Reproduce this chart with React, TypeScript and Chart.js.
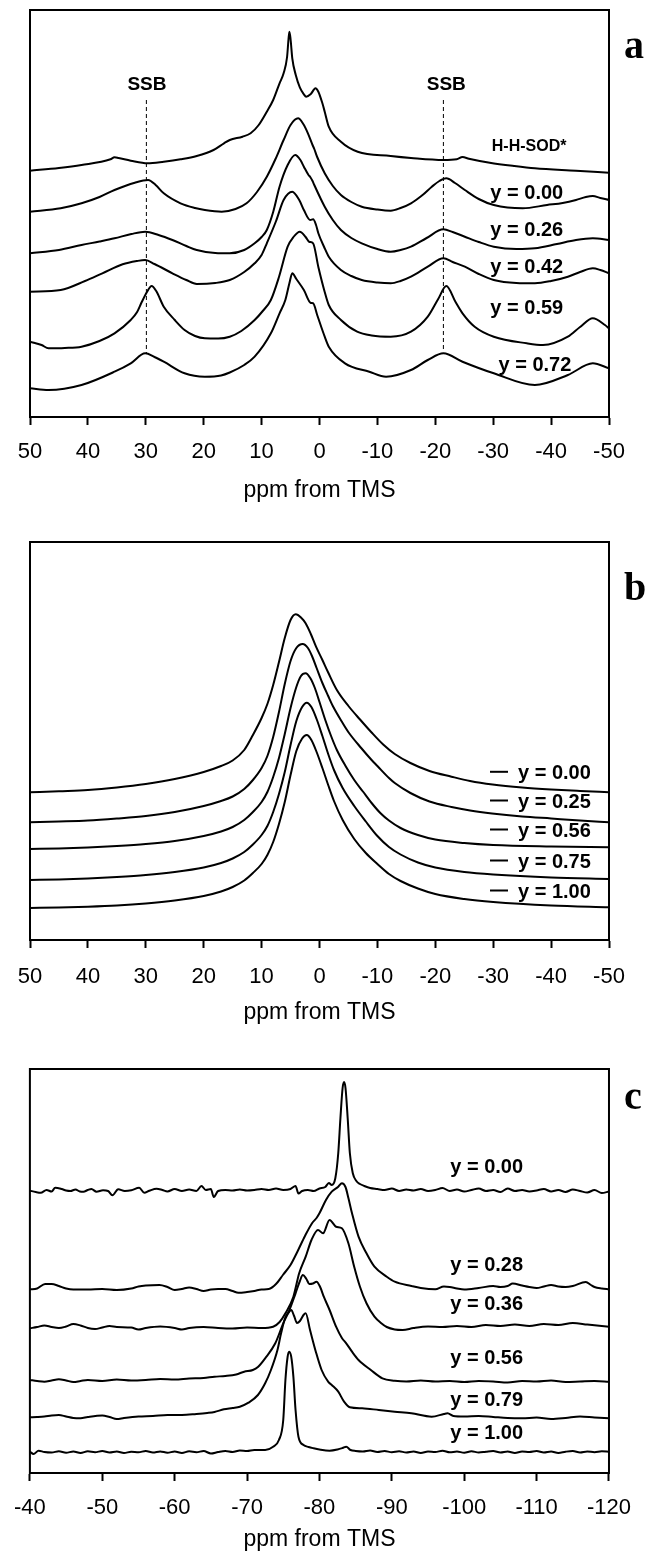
import React, { useEffect, useRef } from "react";
import { Chart, registerables } from "chart.js";

Chart.register(...registerables);

// ---------- Panel a : 1H spectra, [ppm, stacked intensity] ----------
const aHHSOD = [[50,246.3],[45,249],[41.1,252],[36.1,257.7],[35.4,259.7],[34.7,259],[32.6,256.3],[29.7,253.7],[26.9,255.3],[24,257.7],[21.2,261],[18.3,267],[16.5,273.7],[15.5,277],[13.3,280.3],[11.9,283.7],[10.5,292],[9.1,305.3],[8.0,317],[6.9,333.7],[6.2,343.7],[5.6,360],[5.35,378],[5.2,385.3],[5.0,378],[4.7,358.7],[4.1,342],[3.4,329.7],[2.7,322.7],[2.3,320.3],[1.5,323],[0.7,328.7],[0.2,325.3],[-0.5,313.7],[-0.9,305.3],[-1.6,290.3],[-3.7,275.3],[-6.6,265.3],[-12.3,261],[-15.8,259],[-21.4,257],[-23.7,257.7],[-24.7,260],[-25.8,258.3],[-29.4,254.3],[-33.6,251],[-37.2,248.7],[-44.3,246.3],[-50,244.3]];
const aY000 = [[50,205.3],[44.7,208.7],[41.1,213.7],[38,220],[35.4,227],[31.9,234.3],[29.6,237],[28.3,232],[26.9,223.7],[24,213.7],[21.5,209],[19.8,207],[16.9,205.3],[14.5,208],[12.6,213.7],[10.8,225],[9.1,240.3],[7.6,258],[6.2,277],[5.0,292],[3.7,298.7],[2.8,293],[2.0,283.7],[1.2,272],[0.9,268],[0.4,260],[-0.9,243.7],[-2.3,231],[-3.7,222],[-5.5,215],[-7.3,210.3],[-10,207.5],[-12.3,206.3],[-14,209],[-15.8,213.7],[-17.8,222],[-19.4,230.3],[-20.7,236],[-21.9,238.7],[-23.4,234],[-25.1,227],[-27.5,218],[-30.1,212],[-35.1,208.7],[-39.3,212],[-42,214],[-44.3,217],[-46,220],[-47.2,221],[-48.5,219],[-50,217]];
const aY026 = [[50,163.7],[45,167],[41.1,172],[38,175.5],[35.4,178.7],[32.5,183],[30.1,185.3],[27.8,182],[25.4,177],[23,171],[21.2,167],[18,164],[15.5,163.7],[13,167],[11.2,173.7],[10,180],[9.1,187],[8,205],[6.9,230.3],[5.5,252],[4.2,262],[3.3,257],[2.7,250.3],[1.9,242],[1.6,240],[1.2,236],[0.9,232],[-0.9,210.3],[-2.3,197],[-3.7,187],[-5.5,179],[-7.3,173.7],[-10,168],[-12.3,165.3],[-14,167],[-15.8,170.3],[-18.5,179],[-21.4,187.7],[-23,185],[-25.1,180.3],[-27.5,175],[-30.1,170.3],[-34,168],[-37.2,168.7],[-41,173],[-44.3,177],[-47.2,178.7],[-50,177]];
const aY042 = [[50,125.3],[44.7,127],[40.5,136],[37.5,143.7],[34,152.7],[31.5,156],[30.1,157],[28.5,153],[25.4,143.7],[23,137],[21.2,133],[18,134],[15.5,137],[13,145],[11.2,153.7],[10,162],[9.1,173.7],[7.5,196],[6.2,217],[4.7,225.3],[3.5,217],[2.7,207],[1.6,197],[1.1,197.7],[0.6,192],[0.2,183.7],[-0.8,170],[-1.6,160.3],[-3.7,147],[-5.5,141],[-7.3,137],[-10,134.5],[-12.3,133.7],[-14,136],[-15.8,140.3],[-18.7,150.3],[-21.4,158.7],[-23,155],[-25.1,150.3],[-27.5,143],[-30.1,137],[-34,134],[-37.2,133.7],[-40,136],[-42.9,140.3],[-45,145],[-47.2,148.7],[-48.5,147],[-50,143.7]];
const aY059 = [[50,75.3],[48,72],[46.8,68.7],[44,69],[41.1,70.3],[38,76],[35.4,83.7],[32.6,97],[31.5,105],[30.8,113.7],[29.8,125],[29.0,131],[28.2,126],[26.9,110.3],[25,97],[23.3,87],[21.5,81],[19.8,78.7],[17.5,78.5],[15.5,80.3],[13.5,86],[11.2,97],[9.8,106],[8.4,117],[7,140],[5.5,170.3],[4.5,180],[3.4,185.3],[2.4,180],[1.8,175.3],[1.1,173.7],[0.2,150],[-0.9,125],[-1.6,112],[-3.7,97],[-6.5,85.3],[-9,81.5],[-12.3,80.3],[-15.8,85.3],[-18.7,100.3],[-20.5,118],[-21.9,131],[-23.5,115],[-24.7,103.7],[-26.8,90.3],[-30.1,80.3],[-35.8,73.7],[-38.6,72],[-42.9,80.3],[-45,90],[-47.2,98.7],[-49.3,92],[-50,88.7]];
const aY072 = [[50,28.7],[46.8,27],[41.1,32],[35.4,45.3],[32.6,53.7],[30.1,63.7],[28.5,60],[26.9,55.3],[23.3,43.7],[19.8,40.3],[17,41.5],[15.5,44.5],[13,52],[11.2,60.3],[8.4,83.7],[6.9,103.7],[5.9,117],[5.2,133.7],[4.7,143.7],[4,138],[2.7,127],[1.5,114],[1.1,113.7],[0.4,102],[-0.9,80.3],[-1.6,70.3],[-4.4,53.7],[-8.6,45.3],[-11.5,40.3],[-15.8,47],[-18.7,57],[-21.4,63.7],[-24.7,55.3],[-30.1,43.7],[-37.2,32],[-42.9,42],[-47.2,53.7],[-50,48.7]];
const aSSBLeft = [[29.9,317],[29.9,64]];
const aSSBRight = [[-21.4,317],[-21.4,65]];
const aLabels = ["SSB", "SSB", "H-H-SOD*", "y = 0.00", "y = 0.26", "y = 0.42", "y = 0.59", "y = 0.72"];
const aLabelAt = [[29.8,332],[-21.9,332],[-36.2,270],[-35.8,224],[-35.8,187],[-35.8,150],[-35.8,109],[-37.2,52]];

// ---------- Panel b ----------
const bY000 = [[50,147.7],[45,148.8],[40,150],[35,152.5],[30,156],[25,161],[20,168],[17,174],[15,179.5],[13,190],[11.5,205],[10,222],[9,236],[8,255],[7,278],[6,302],[5,320],[4.1,325.7],[3.2,322.5],[2.4,316.7],[1.5,306],[0.6,293.3],[-0.5,280],[-1.5,267.5],[-3,250],[-5,234],[-7,220.5],[-9,207.5],[-11,195.5],[-13,186],[-15.7,177],[-19,169],[-22.8,163.3],[-26,159],[-29.9,155.5],[-35,152.5],[-40,150.5],[-45,149],[-50,147.7]];
const bY025 = [[50,117.7],[45,118.5],[40,119.5],[35,121.5],[30,124],[25,128],[20,134],[17,139],[15,143.5],[13,151],[11.5,160],[10,172],[9,184],[8,203],[7,228],[6,256],[5,279],[4,292],[2.9,296],[2,292],[1.3,284],[0.5,272],[-0.5,257],[-1.5,244],[-2.3,234],[-4,217],[-5.1,207],[-7.2,192],[-9,180],[-10,174],[-12,162],[-13,157],[-15.7,147],[-19,138.5],[-22.8,133],[-26,129.5],[-29.8,126.5],[-35,123.5],[-40,121.5],[-45,119.5],[-50,117.7]];
const bY056 = [[50,91],[45,91.5],[40,92.5],[35,94],[30,96],[25,99],[20,104],[17,108.5],[15,113],[13,120],[11.5,128],[10,138],[9,148],[8,163],[7,182],[6,206],[5,232],[4,253],[3.2,264],[2.4,266.7],[1.6,262],[0.8,252],[0,238],[-1,220],[-2,204],[-3,190],[-4.5,174],[-6,160],[-7.5,148.5],[-9,137],[-10.5,127],[-12,119.5],[-14,112],[-17,105],[-20,100.5],[-25,97],[-30,95],[-40,93.5],[-50,92.7]];
const bY075 = [[50,60],[45,60.5],[40,61.5],[35,63],[30,65],[25,68],[20,72.5],[17,77],[15,81.5],[13,88],[11.5,95.5],[10,105],[9,114],[8,128],[7,146],[6,168],[5,195],[4,219],[3,233],[2.2,237.3],[1.4,233],[0.5,221],[-0.5,204],[-1.5,186],[-2.5,170],[-4,152],[-6,134],[-8,118.5],[-10,104],[-12,93],[-14,85.5],[-17,77.5],[-20,72.5],[-25,68],[-30,65.5],[-40,62.5],[-50,61]];
const bY100 = [[50,32],[45,32.5],[40,33.3],[35,34.5],[30,36.5],[25,39.5],[20,44],[17,48.5],[15,53],[13,59.5],[11.5,67],[10,76],[9,85],[8,98],[7,116],[6,138],[5,165],[4,189],[3,201.5],[2.2,205],[1.4,200],[0.5,188],[-0.5,172],[-1.5,155],[-2.5,139],[-4,120],[-6,101],[-8,87],[-10,76],[-12,66],[-14,59],[-17,51.5],[-20,46],[-25,41],[-30,38],[-40,34.5],[-50,32.7]];
const bLabels = ["y = 0.00", "y = 0.25", "y = 0.56", "y = 0.75", "y = 1.00"];
const bLabelY = [166.7, 138, 109, 78, 48];

// ---------- Panel c : 29Si spectra ----------
const cY000 = [[-40,282.3],[-40.8,281],[-41.5,280.3],[-42.3,283],[-43.0,281.5],[-43.5,285.3],[-44.4,284],[-45.0,282.5],[-45.6,282],[-46.3,283.5],[-46.9,281.5],[-47.4,281.3],[-48.0,283],[-48.5,284],[-49.2,281.3],[-50.1,282.7],[-50.8,282],[-51.4,277.7],[-52.2,283.7],[-53.1,282],[-54.0,282.7],[-55.1,285.3],[-55.8,280.3],[-56.5,282.3],[-57.5,284.3],[-58.3,283],[-59,281.5],[-60,284],[-61,282],[-62,283.5],[-63,282],[-63.7,287],[-64.3,283],[-65,284],[-65.4,276],[-66,282],[-67,283],[-68,282.5],[-69,283.5],[-70,282.5],[-71,283],[-72,284],[-73,283],[-74,284.5],[-75,283],[-76,284],[-76.7,287],[-77.1,279.5],[-77.6,282],[-78.4,283],[-79.2,282],[-80,284.5],[-80.8,286],[-81.3,290],[-81.7,288],[-82.2,295],[-82.6,320],[-82.9,355],[-83.2,385],[-83.4,391],[-83.6,385],[-83.9,355],[-84.2,320],[-84.6,300],[-85.1,292],[-85.6,289],[-86.2,287],[-87,285],[-88,284],[-89,283],[-90,284.5],[-91,282],[-92,283.5],[-93,282.5],[-94,284],[-95,282],[-96,283],[-97,285],[-98,282],[-99,283.5],[-100,281.5],[-101,283],[-102,284.5],[-103,282],[-104,283],[-105,281],[-106,284.5],[-107,282],[-108,283],[-109,281.5],[-110,282.5],[-111,284],[-112,281.5],[-113,283],[-114,281],[-115,283.5],[-116,282],[-117,280.5],[-118,283],[-119,280],[-120,281.5]];
const cY028 = [[-40,183.7],[-41,184.5],[-42.1,189],[-43,189],[-44,187],[-45,184.5],[-46,183.5],[-48,183.5],[-50,184],[-52,183],[-54,184.5],[-55,186.5],[-56,187.5],[-57.9,188],[-59,186],[-60,183],[-61,184],[-62,185.5],[-63,184],[-64,182],[-65,183.5],[-66,184],[-67,184],[-68,182],[-68.8,180.3],[-70,181],[-71,182],[-72,183.5],[-73,184],[-74,189],[-75,198.5],[-76,208],[-77,222],[-78,237],[-79,250],[-79.6,255],[-80,259.7],[-80.9,273],[-81.7,281.3],[-82.6,286.3],[-83.1,289.7],[-83.6,286],[-84,275],[-84.5,259.7],[-85.4,236.3],[-86.5,219.7],[-87.6,206.3],[-89.3,196.3],[-90.4,191.3],[-92.7,187],[-94,185],[-96,183.7],[-97.2,186.5],[-98,186],[-99,184.5],[-100,183.5],[-102,185],[-104,187],[-105,186],[-106,187],[-106.7,189.5],[-108,187.5],[-109,186],[-110,185],[-111,186.5],[-112,188],[-113,186.5],[-114,186],[-115,187],[-116.8,191],[-117.5,188],[-118,186],[-119,184.5],[-120,183.7]];
const cY036 = [[-40,144.7],[-41,146],[-42,147.5],[-43,146],[-44,145],[-45,146.5],[-46,149],[-47,147.5],[-48,145],[-49,144],[-50,145.5],[-51,147],[-52,146],[-54,145.5],[-55,143.5],[-56,145],[-58,146.5],[-60,145],[-61,143.5],[-62,145],[-64,146],[-66,145],[-68,144.5],[-70,145.5],[-72,145],[-73.6,146.3],[-74.5,151],[-75.3,159.7],[-76.4,176.3],[-77.2,199.7],[-78.1,216.3],[-78.9,233],[-79.8,243],[-80.5,239.7],[-81.4,253],[-82.3,246.3],[-83.1,244.7],[-84,229.7],[-84.8,206.3],[-85.6,186.3],[-86.5,169.7],[-87.6,156.3],[-88.5,150],[-89.3,146],[-90.4,143.5],[-91.5,143],[-93,145],[-95,146.5],[-97,146],[-99,147],[-101,146],[-103,148],[-105,147],[-107,148.5],[-109,147],[-111,149],[-113,148],[-115,150],[-117,148.5],[-119,147],[-120,146.3]];
const cY056 = [[-40,93],[-41,92],[-42,91.3],[-43,92.5],[-44,93.7],[-45,92.5],[-46,91],[-47,92],[-48,93],[-50,92],[-52,93.5],[-54,92.5],[-56,93],[-58,94],[-60,93.5],[-62,94.5],[-64,95],[-65.5,96.3],[-67,97],[-68.5,98.5],[-69.6,101.3],[-70.8,103],[-71.5,106],[-72.5,114.7],[-73.9,129.7],[-75,149.7],[-75.8,162],[-76.7,179.7],[-77.3,192],[-77.7,198],[-78.2,194],[-78.6,189],[-79.1,189.5],[-79.6,191.3],[-80.1,186],[-80.6,176.3],[-81.4,163],[-82.3,146.3],[-83.1,135],[-83.7,129.7],[-84.5,121.3],[-85.4,113],[-87.1,103],[-88.7,94.7],[-90.4,92.3],[-92,91.5],[-94,92.5],[-96,91.5],[-98,92],[-100,91],[-102,92],[-104,91.5],[-106,90.5],[-108,92],[-110,91.5],[-112,92.5],[-114,91],[-116,91.5],[-118,92],[-120,91.3]];
const cY079 = [[-40,55.7],[-41,56],[-42,56.5],[-43,57.5],[-44,58],[-45,56.5],[-46,55],[-47,54.7],[-48,56],[-50,57.5],[-51,56],[-52,54],[-53,55],[-55,56.5],[-57,57],[-59,58],[-61,58],[-63,59],[-64.5,60],[-65.5,61],[-66.8,63.7],[-68,65],[-69,66.3],[-70.2,70.3],[-71.5,78],[-72.5,89.7],[-73.3,103],[-74.2,123],[-74.7,139.7],[-75.3,156],[-75.8,161],[-76.1,163],[-76.5,157],[-76.9,150],[-77.3,152],[-77.8,158],[-78.1,159.7],[-78.7,143],[-79.5,121.3],[-80.3,103],[-81.2,91.3],[-81.7,88],[-82.6,81.3],[-83.4,71.3],[-84.2,65.7],[-85.9,64.7],[-88.2,63],[-90.4,61.3],[-92.7,59.7],[-95.5,56.3],[-97.2,59],[-97.7,59.7],[-98.5,57],[-100,56.5],[-102,57],[-104,56],[-106,55],[-108,54.7],[-110,55.5],[-112,54],[-114,55],[-116,56.5],[-118,55.5],[-120,54.7]];
const cY100 = [[-40,21.3],[-40.5,19],[-41.2,22.3],[-42,21],[-43,20.5],[-44,21.8],[-45,20.3],[-46,21.5],[-47,20],[-48,21.7],[-49,20.8],[-50,22],[-51,20.5],[-52,21.5],[-53,20],[-54,21.3],[-55,20.7],[-56,22],[-57,20.5],[-58,21.6],[-59,20.3],[-60,21.5],[-61,20],[-62,21.7],[-63,20.8],[-64,22],[-65,19.5],[-66,21],[-67,22],[-68,21],[-69,22.5],[-70,22],[-71,23],[-72.5,23],[-73.6,26.3],[-74.4,33],[-75,53],[-75.3,93],[-75.6,116],[-75.8,121.3],[-76.1,116.3],[-76.4,96.3],[-76.7,63],[-77.1,36.3],[-77.8,28],[-78.5,26],[-79.2,24.7],[-80,23.5],[-81.4,22.3],[-82.5,23.5],[-83.2,25],[-83.7,26.3],[-84.3,23],[-85,22],[-86,21.5],[-87,22.5],[-88,21],[-89,22],[-90,20.8],[-91,21.7],[-92,20.5],[-93,21.5],[-94,20],[-95,21.5],[-96,21],[-97,22.3],[-98,20.7],[-99,21.5],[-100,20.3],[-101,21.7],[-102,20.5],[-103,21.3],[-104,22],[-105,20.5],[-106,21.5],[-107,20],[-108,21.5],[-109,21],[-110,22],[-111,20.5],[-112,21.5],[-113,20],[-114,21.3],[-115,22],[-116,20.5],[-117,21.5],[-118,20.8],[-119,21.7],[-120,21.3]];
const cLabels = ["y = 0.00", "y = 0.28", "y = 0.36", "y = 0.56", "y = 0.79", "y = 1.00"];
const cLabelY = [305.5, 207.5, 168.3, 114.2, 73, 39.7];
const cLabelX = -103.1;

const SANS = "'Liberation Sans', Arial, Helvetica, sans-serif";
const SERIF = "'Liberation Serif', 'Times New Roman', serif";

type Pts = number[][];

function lineDs(pts: Pts, dashed = false) {
  return {
    data: pts.map(([x, y]) => ({ x, y })),
    borderColor: "#000",
    borderWidth: dashed ? 1 : 2,
    borderDash: dashed ? [4, 3] : [],
    pointRadius: 0,
    fill: false,
    cubicInterpolationMode: dashed ? "default" : "monotone",
    tension: 0,
  };
}

function xAxis(min: number, max: number, pad: number, h: number) {
  return {
    type: "linear",
    reverse: true,
    min,
    max,
    afterFit: (s: any) => { s.height = h; },
    ticks: {
      stepSize: 10, padding: pad, color: "#000", autoSkip: false, maxRotation: 0,
      font: { family: SANS, size: 22 },
      callback: (v: any) => String(v),
    },
    grid: { display: true, drawOnChartArea: false, drawTicks: true, tickLength: 8, tickWidth: 2, tickColor: "#000", color: "#000" },
    border: { display: true, color: "#000", width: 2 },
    title: { display: true, text: "ppm from TMS", color: "#000", font: { family: SANS, size: 23 }, padding: 0 },
  };
}

function decoPlugin(draw: (chart: any) => void) {
  return {
    id: "deco",
    afterDraw(chart: any) {
      const { ctx, chartArea: ca } = chart;
      ctx.save();
      ctx.strokeStyle = "#000";
      ctx.lineWidth = 2;
      ctx.strokeRect(ca.left, ca.top, ca.right - ca.left, ca.bottom - ca.top);
      ctx.fillStyle = "#000";
      draw(chart);
      ctx.restore();
    },
  };
}

function baseOptions(pad: any, xa: any, ymax: number) {
  return {
    responsive: false,
    maintainAspectRatio: false,
    animation: false,
    events: [],
    layout: { padding: pad },
    plugins: { legend: { display: false }, tooltip: { enabled: false } },
    scales: { x: xa, y: { display: false, min: 0, max: ymax } },
  };
}

function buildA() {
  return {
    type: "line",
    data: { datasets: [aSSBLeft, aSSBRight].map((p) => lineDs(p, true)).concat([aHHSOD, aY000, aY026, aY042, aY059, aY072].map((p) => lineDs(p))) },
    options: baseOptions({ left: 30, right: 36, top: 10, bottom: 26 }, xAxis(-50, 50, 14, 87), 407),
    plugins: [decoPlugin((chart) => {
      const { ctx, scales } = chart;
      ctx.textAlign = "center";
      ctx.textBaseline = "middle";
      aLabels.forEach((t, i) => {
        const size = t === "SSB" ? 19 : t.startsWith("H") ? 16 : 20;
        ctx.font = `bold ${size}px ${SANS}`;
        ctx.fillText(t, scales.x.getPixelForValue(aLabelAt[i][0]), scales.y.getPixelForValue(aLabelAt[i][1]));
      });
      ctx.textAlign = "left";
      ctx.textBaseline = "alphabetic";
      ctx.font = `bold 40px ${SERIF}`;
      ctx.fillText("a", 624, 58);
    })],
  };
}

function buildB() {
  return {
    type: "line",
    data: { datasets: [bY000, bY025, bY056, bY075, bY100].map((p) => lineDs(p)) },
    options: baseOptions({ left: 30, right: 36, top: 12, bottom: 24 }, xAxis(-50, 50, 16, 86), 398),
    plugins: [decoPlugin((chart) => {
      const { ctx, scales } = chart;
      ctx.textAlign = "left";
      ctx.textBaseline = "middle";
      ctx.font = `bold 20px ${SANS}`;
      bLabels.forEach((t, i) => {
        const y = scales.y.getPixelForValue(bLabelY[i]);
        ctx.beginPath();
        ctx.lineWidth = 2;
        ctx.moveTo(scales.x.getPixelForValue(-29.45), y - 1.5);
        ctx.lineTo(scales.x.getPixelForValue(-32.56), y - 1.5);
        ctx.stroke();
        ctx.fillText(t, scales.x.getPixelForValue(-34.28), y);
      });
      ctx.textBaseline = "alphabetic";
      ctx.font = `bold 40px ${SERIF}`;
      ctx.fillText("b", 624, 70);
    })],
  };
}

function buildC() {
  return {
    type: "line",
    data: { datasets: [cY000, cY028, cY036, cY056, cY079, cY100].map((p) => lineDs(p)) },
    options: baseOptions({ left: 26, right: 34, top: 19, bottom: 1 }, xAxis(-120, -40, 14, 80), 404),
    plugins: [decoPlugin((chart) => {
      const { ctx, scales } = chart;
      ctx.textAlign = "center";
      ctx.textBaseline = "middle";
      ctx.font = `bold 20px ${SANS}`;
      cLabels.forEach((t, i) => {
        ctx.fillText(t, scales.x.getPixelForValue(cLabelX), scales.y.getPixelForValue(cLabelY[i]));
      });
      ctx.textAlign = "left";
      ctx.textBaseline = "alphabetic";
      ctx.font = `bold 40px ${SERIF}`;
      ctx.fillText("c", 624, 59);
    })],
  };
}

function Panel({ top, height, build }: { top: number; height: number; build: () => any }) {
  const ref = useRef<HTMLCanvasElement>(null);
  useEffect(() => {
    const chart = new Chart(ref.current as HTMLCanvasElement, build());
    return () => chart.destroy();
  }, []);
  return (
    <div style={{ position: "absolute", left: 0, top, width: 645, height }}>
      <canvas ref={ref} width={645} height={height} style={{ display: "block", width: 645, height }} />
    </div>
  );
}

export default function App() {
  return (
    <div style={{ position: "absolute", left: 0, top: 0, width: 645, height: 1554, background: "#fff", overflow: "hidden" }}>
      <Panel top={0} height={530} build={buildA} />
      <Panel top={530} height={520} build={buildB} />
      <Panel top={1050} height={504} build={buildC} />
    </div>
  );
}
